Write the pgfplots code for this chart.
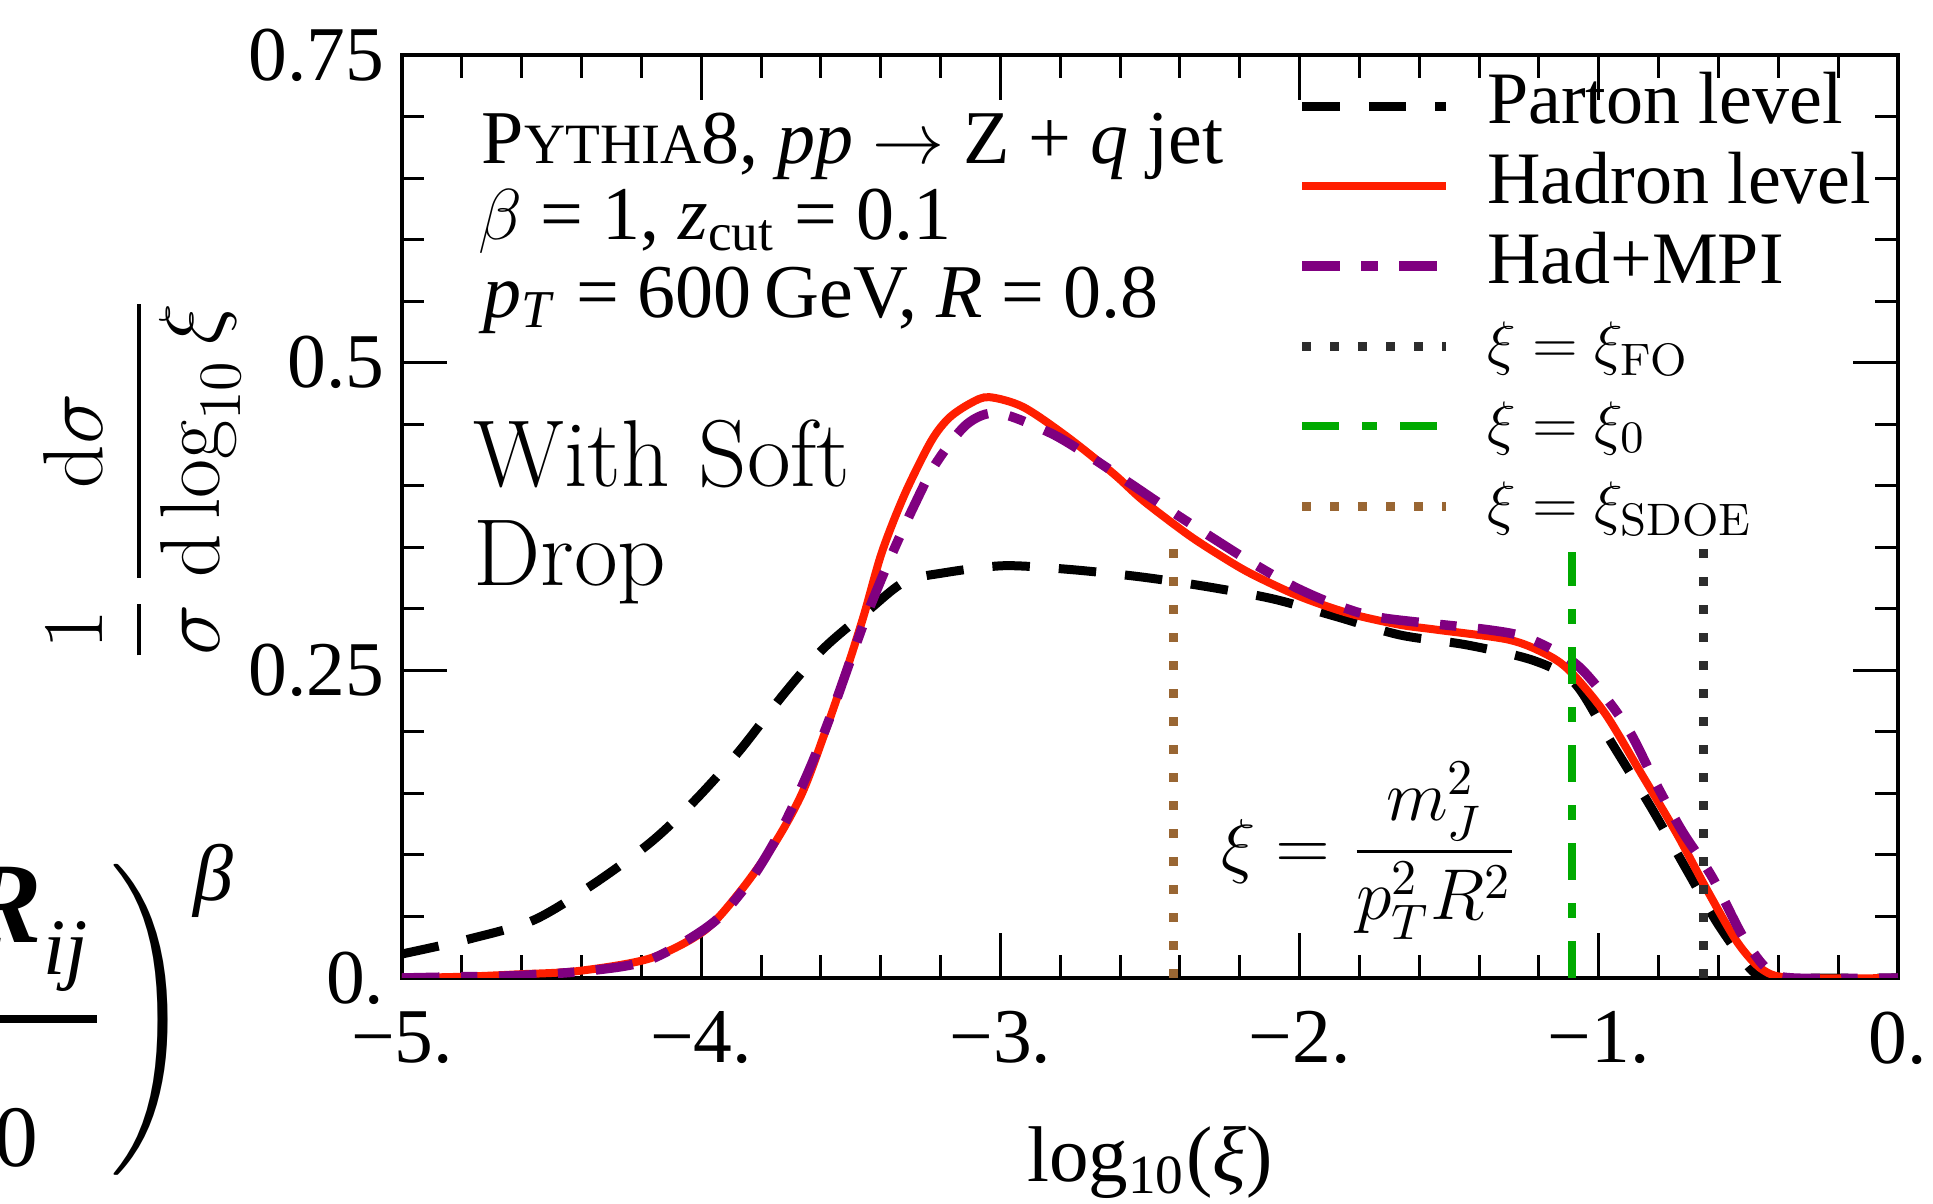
\documentclass[border=0pt]{standalone}
\usepackage{amsmath}
\usepackage{fontspec}
\newfontfamily\tmr{Liberation Serif}
\usepackage{pgfplots}
\pgfplotsset{compat=1.18}
\definecolor{hadred}{RGB}{255,30,0}
\definecolor{mpipurple}{RGB}{128,0,128}
\definecolor{fogray}{RGB}{45,45,45}
\definecolor{zerogreen}{RGB}{0,170,0}
\definecolor{sdoebrown}{RGB}{153,102,51}
\begin{document}
\begin{tikzpicture}
\begin{axis}[
  at={(80.4pt,45.2pt)}, anchor=south west,
  width=299.2pt, height=184.6pt, scale only axis,
  xmin=-5, xmax=0, ymin=0, ymax=0.75,
  xtick={-5,-4,-3,-2,-1,0},
  xticklabels={−5.,−4.,−3.,−2.,−1.,0.},
  ytick={0,0.25,0.5,0.75},
  yticklabels={0.,0.25,0.5,0.75},
  minor x tick num=4, minor y tick num=4,
  major tick length=9pt, minor tick length=4.5pt,
  tick style={black, line width=0.6pt},
  axis line style={line width=0.7pt},
  tick label style={font=\tmr\fontsize{15.5}{18}\selectfont},
  xticklabel style={yshift=-3.2pt},
  xlabel={log\textsubscript{10}(\textit{ξ})},
  xlabel style={at={(axis description cs:0.5,-0.221)}, anchor=base, font=\tmr\fontsize{15.8}{19}\selectfont},
  ylabel={$\dfrac{1}{\sigma}\,\dfrac{\mathrm{d}\sigma}{\mathrm{d}\log_{10}\xi}$},
  ylabel style={at={(axis description cs:-0.174,0.54)}, anchor=center, font=\fontsize{17}{20}\selectfont},
  legend style={at={(axis description cs:0.598,0.989)}, anchor=north west, draw=none, fill=none,
    font=\tmr\fontsize{14.8}{17}\selectfont, inner sep=0pt, row sep=0pt,
    nodes={text height=10pt, text depth=3pt, inner sep=1.5pt}},
  legend cell align=left,
  legend image code/.code={\draw[#1] (0pt,0pt) -- (28.8pt,0pt); \path (34.5pt,0pt);},
]
\addplot[black, line width=1.8pt, dash pattern=on 7.5pt off 5.8pt, smooth] coordinates {
(-5,0.0195) (-4.77,0.032) (-4.56,0.047) (-4.365,0.0755) (-4.17,0.11) (-4.022,0.144) (-3.874,0.184) (-3.723,0.231) (-3.59,0.268) (-3.44,0.299) (-3.32,0.322) (-3.195,0.329) (-2.99,0.335) (-2.77,0.332) (-2.533,0.326) (-2.31,0.318) (-2.088,0.308) (-1.876,0.2936) (-1.664,0.2787) (-1.44,0.2706) (-1.218,0.258) (-1.081,0.2397) (-0.963,0.1934) (-0.826,0.139) (-0.706,0.0878) (-0.604,0.0447) (-0.50,0.0092) (-0.45,0.001) (-0.35,0) (0,0)};
\addlegendentry{Parton level}
\addplot[hadred, line width=1.6pt, smooth] coordinates {
(-5,0.0) (-4.8,0.001) (-4.61,0.003) (-4.41,0.0057) (-4.17,0.016) (-3.992,0.038) (-3.874,0.069) (-3.753,0.110) (-3.663,0.150) (-3.59,0.197) (-3.516,0.249) (-3.456,0.295) (-3.396,0.346) (-3.32,0.393) (-3.232,0.436) (-3.172,0.455) (-3.10,0.467) (-3.038,0.472) (-2.924,0.464) (-2.778,0.440) (-2.623,0.410) (-2.523,0.388) (-2.377,0.361) (-2.277,0.345) (-2.166,0.329) (-1.999,0.310) (-1.83,0.296) (-1.664,0.287) (-1.542,0.283) (-1.303,0.275) (-1.183,0.264) (-1.099,0.250) (-0.979,0.215) (-0.859,0.1665) (-0.740,0.1176) (-0.638,0.0715) (-0.535,0.0284) (-0.451,0.0065) (-0.35,0.0) (0,0)};
\addlegendentry{Hadron level}
\addplot[mpipurple, line width=1.9pt, dash pattern=on 7.5pt off 4.3pt on 3.3pt off 4.3pt, smooth] coordinates {
(-5,0.0) (-4.8,0.001) (-4.61,0.002) (-4.37,0.006) (-4.17,0.015) (-3.96,0.045) (-3.828,0.082) (-3.723,0.125) (-3.634,0.172) (-3.56,0.218) (-3.50,0.259) (-3.44,0.299) (-3.365,0.343) (-3.29,0.383) (-3.216,0.418) (-3.112,0.450) (-3.008,0.459) (-2.834,0.443) (-2.70,0.4236) (-2.567,0.402) (-2.433,0.380) (-2.29,0.3575) (-2.156,0.337) (-2.01,0.317) (-1.865,0.302) (-1.72,0.2925) (-1.371,0.283) (-1.235,0.276) (-1.081,0.256) (-0.979,0.2286) (-0.894,0.199) (-0.809,0.158) (-0.723,0.120) (-0.621,0.082) (-0.518,0.0336) (-0.434,0.0065) (-0.35,0.0) (0,0)};
\addlegendentry{Had+MPI}
\addplot[fogray, line width=1.8pt, dash pattern=on 1.8pt off 3.8pt] coordinates {(-0.650,0) (-0.650,0.350)};
\addlegendentry{\fontsize{13}{15}\selectfont$\xi=\xi_{\mathrm{FO}}$}
\addplot[zerogreen, line width=1.7pt, dash pattern=on 7.3pt off 4.7pt on 2.9pt off 4.7pt] coordinates {(-1.090,0) (-1.090,0.346)};
\addlegendentry{\fontsize{13}{15}\selectfont$\xi=\xi_{0}$}
\addplot[sdoebrown, line width=1.8pt, dash pattern=on 1.8pt off 3.8pt] coordinates {(-2.420,0) (-2.420,0.350)};
\addlegendentry{\fontsize{13}{15}\selectfont$\xi=\xi_{\mathrm{SDOE}}$}
\node[anchor=base west, font=\tmr\fontsize{15.2}{17}\selectfont, inner sep=0pt] at (axis cs:-4.736,0.662) {P{\fontsize{11.4}{13}\selectfont YTHIA}8, \textit{pp} $\rightarrow$ Z + \textit{q} jet};
\node[anchor=base west, font=\tmr\fontsize{15.2}{17}\selectfont, inner sep=0pt] at (axis cs:-4.749,0.600) {$\beta$ = 1, \textit{z}\textsubscript{cut} = 0.1};
\node[anchor=base west, font=\tmr\fontsize{15.2}{17}\selectfont, inner sep=0pt] at (axis cs:-4.73,0.537) {\textit{p}\textsubscript{\textit{T}} = 600\,GeV, \textit{R} = 0.8};
\node[anchor=base west, font=\fontsize{19}{23}\selectfont, inner sep=0pt] at (axis cs:-4.765,0.399) {With Soft};
\node[anchor=base west, font=\fontsize{19}{23}\selectfont, inner sep=0pt] at (axis cs:-4.765,0.319) {Drop};
\node[anchor=center, font=\fontsize{14.6}{17}\selectfont] at (axis cs:-1.765,0.103) {$\xi = \dfrac{m_J^2}{p_T^2 R^2}$};
\end{axis}
% fragment of a neighbouring formula, cut by the left edge
\node[anchor=base east, inner sep=0pt, font=\tmr\fontsize{23}{28}\selectfont\bfseries\itshape] at (8.6pt,52.2pt) {ΔR};
\node[anchor=base west, inner sep=0pt, font=\tmr\fontsize{16}{19}\selectfont\itshape] at (8.4pt,45.8pt) {ij};
\node[anchor=east, inner sep=0pt] at (19.6pt,37pt) {\rule{40pt}{1.6pt}};
\node[anchor=base east, inner sep=0pt, font=\tmr\fontsize{17.5}{20}\selectfont] at (7.8pt,7.4pt) {R0};
\node[anchor=center, inner sep=0pt, font=\fontsize{20}{24}\selectfont] at (30.3pt,36.8pt) {$\Bigg)$};
\node[anchor=center, inner sep=0pt, font=\tmr\fontsize{16}{19}\selectfont\itshape] at (42.6pt,64.6pt) {β};
\pgfresetboundingbox
\path[use as bounding box] (0pt,0pt) rectangle (386.6pt,240.8pt);
\end{tikzpicture}
\end{document}
